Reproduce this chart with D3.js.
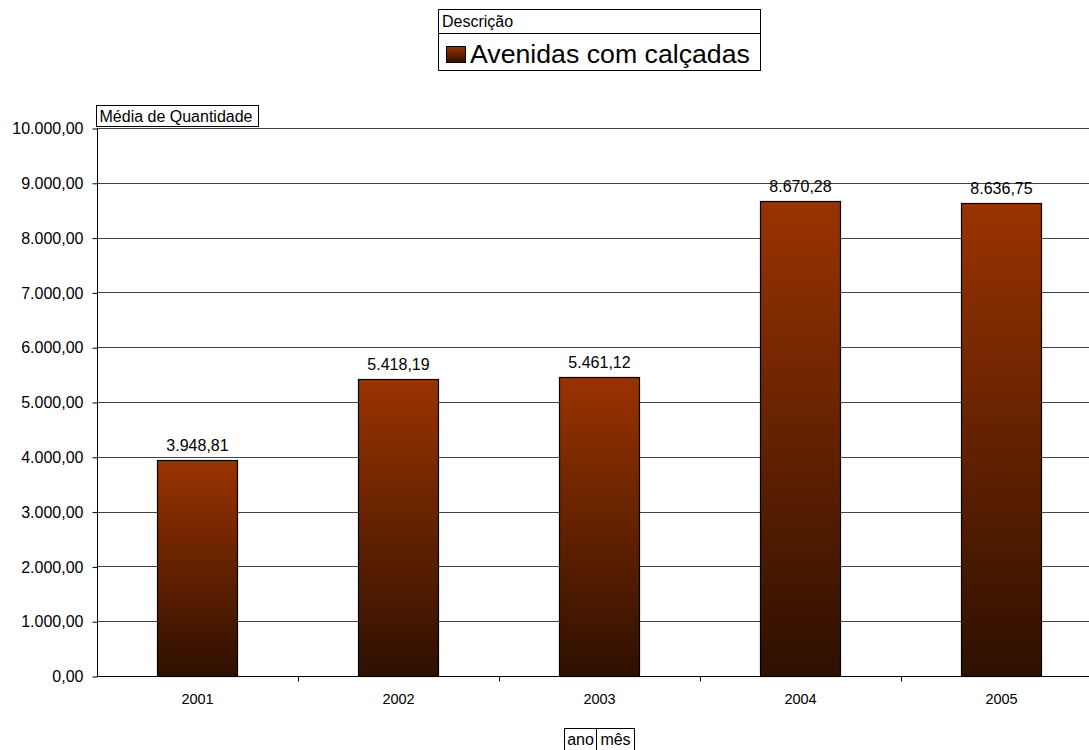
<!DOCTYPE html>
<html>
<head>
<meta charset="utf-8">
<script src="https://cdn.jsdelivr.net/npm/d3@7"></script>
<style>
  html, body { margin: 0; padding: 0; background: #fff; }
  svg { display: block; }
  svg text { font-family: "Liberation Sans", Arial, sans-serif; fill: #000; }
</style>
</head>
<body>
<svg id="chart" width="1089" height="750"></svg>
<script>
// Average quantity of avenues with sidewalks, by year
const anos = ["2001", "2002", "2003", "2004", "2005"];
const mediaQuantidade = [3948.81, 5418.19, 5461.12, 8670.28, 8636.75];
const yTicks = [0, 1000, 2000, 3000, 4000, 5000, 6000, 7000, 8000, 9000, 10000];
const serieNome = "Avenidas com calçadas";

const ptBR = d3.formatLocale({ decimal: ",", thousands: ".", grouping: [3], currency: ["R$", ""] });
const fmt = ptBR.format(",.2f");

const svg = d3.select("#chart");

const plot = { left: 97, right: 1102, top: 128, bottom: 676 };

const x = d3.scaleBand().domain(anos).range([plot.left, plot.right]).paddingInner(0).paddingOuter(0);
const y = d3.scaleLinear().domain([0, 10000]).range([plot.bottom, plot.top]);

// bar gradient
const defs = svg.append("defs");
const grad = defs.append("linearGradient").attr("id", "barGrad")
  .attr("x1", 0).attr("y1", 0).attr("x2", 0).attr("y2", 1);
grad.append("stop").attr("offset", "0%").attr("stop-color", "#993300");
grad.append("stop").attr("offset", "100%").attr("stop-color", "#2e1000");

// gridlines
svg.append("g")
  .selectAll("line").data(yTicks.filter(d => d > 0)).join("line")
  .attr("x1", plot.left).attr("x2", 1089)
  .attr("y1", d => Math.round(y(d)) + 0.5).attr("y2", d => Math.round(y(d)) + 0.5)
  .attr("stroke", "#444").attr("stroke-width", 1);

// y axis
const yAxis = d3.axisLeft(y).tickValues(yTicks).tickFormat(fmt).tickSize(5).tickPadding(9);
const gy = svg.append("g").attr("transform", `translate(${plot.left + 0.5},0.5)`).call(yAxis);
gy.attr("font-family", null);
gy.select(".domain").attr("d", `M0,${plot.top}V${plot.bottom}`).attr("stroke", "#000");
gy.selectAll(".tick line").attr("stroke", "#000");
gy.selectAll(".tick text").attr("font-size", 16);

// bars
const barW = 80;
svg.append("g").selectAll("rect").data(anos).join("rect")
  .attr("x", (d) => Math.floor(x(d) + x.bandwidth() / 2 - barW / 2) + 0.5)
  .attr("y", (d, i) => Math.round(y(mediaQuantidade[i])) + 0.5)
  .attr("width", barW)
  .attr("height", (d, i) => Math.round(y(0)) - Math.round(y(mediaQuantidade[i])))
  .attr("fill", "url(#barGrad)")
  .attr("stroke", "#000").attr("stroke-width", 1.2);

// value labels
svg.append("g").selectAll("text").data(anos).join("text")
  .attr("x", d => x(d) + x.bandwidth() / 2)
  .attr("y", (d, i) => y(mediaQuantidade[i]) - 9)
  .attr("text-anchor", "middle").attr("font-size", 16)
  .text((d, i) => fmt(mediaQuantidade[i]));

// x axis
const xAxis = d3.axisBottom(x).tickSize(0).tickPadding(0);
const gx = svg.append("g").attr("transform", `translate(0,${plot.bottom + 0.5})`).call(xAxis);
gx.attr("font-family", null);
gx.select(".domain").attr("d", `M${plot.left},0H1089`).attr("stroke", "#000");
gx.selectAll(".tick text").attr("font-size", 14.5).attr("y", 27).attr("dy", 0);
// category separator ticks
gx.append("g").selectAll("line").data(anos.slice(1)).join("line")
  .attr("x1", d => Math.round(x(d)) + 0.5).attr("x2", d => Math.round(x(d)) + 0.5)
  .attr("y1", 0).attr("y2", 5).attr("stroke", "#000");

// y field button
const yBtn = svg.append("g");
yBtn.append("rect").attr("x", 96.5).attr("y", 105.5).attr("width", 162).attr("height", 21)
  .attr("fill", "#fff").attr("stroke", "#000").attr("stroke-width", 1);
yBtn.append("text").attr("x", 99.5).attr("y", 121.5).attr("font-size", 16).text("Média de Quantidade");

// legend
const leg = svg.append("g");
leg.append("rect").attr("x", 438.5).attr("y", 9.5).attr("width", 322).attr("height", 61)
  .attr("fill", "#fff").attr("stroke", "#000");
leg.append("line").attr("x1", 438.5).attr("x2", 760.5).attr("y1", 33.5).attr("y2", 33.5).attr("stroke", "#000");
leg.append("text").attr("x", 442).attr("y", 27).attr("font-size", 16).text("Descrição");
leg.append("rect").attr("x", 446.5).attr("y", 46.5).attr("width", 19).attr("height", 16)
  .attr("fill", "url(#barGrad)").attr("stroke", "#000");
leg.append("text").attr("x", 470).attr("y", 63).attr("font-size", 26.7).text(serieNome);

// x field buttons
const xBtn = svg.append("g");
xBtn.append("rect").attr("x", 564.5).attr("y", 728.5).attr("width", 32).attr("height", 22)
  .attr("fill", "#fff").attr("stroke", "#000");
xBtn.append("rect").attr("x", 596.5).attr("y", 728.5).attr("width", 38).attr("height", 22)
  .attr("fill", "#fff").attr("stroke", "#000");
xBtn.append("text").attr("x", 580.5).attr("y", 745).attr("text-anchor", "middle").attr("font-size", 16).text("ano");
xBtn.append("text").attr("x", 615.5).attr("y", 745).attr("text-anchor", "middle").attr("font-size", 16).text("mês");
</script>
</body>
</html>
